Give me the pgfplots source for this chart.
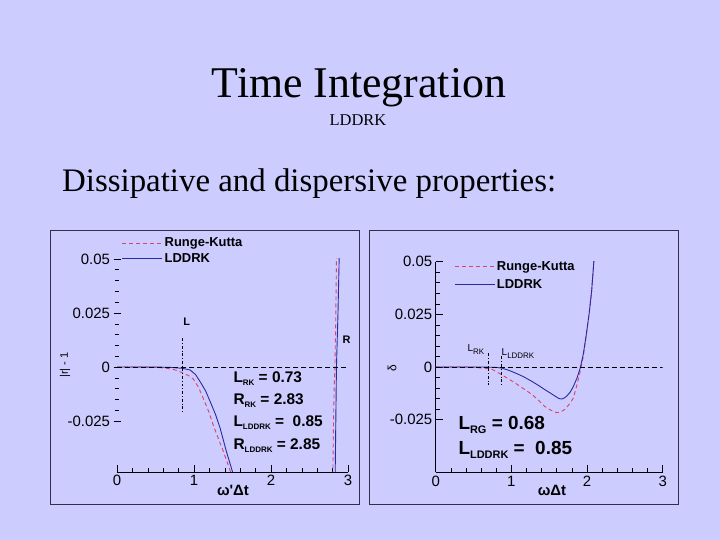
\documentclass[border=0pt]{standalone}
\usepackage{fontspec}
\setmainfont{Liberation Serif}
\newfontfamily\arial{Liberation Sans}
\usepackage{pgfplots}
\pgfplotsset{compat=1.18}
\definecolor{bg}{HTML}{CCCCFF}
\definecolor{rkred}{HTML}{E0406A}
\definecolor{ldblue}{HTML}{2A2AA0}
\definecolor{framec}{HTML}{303048}
\newcommand{\sub}[1]{\raisebox{-3bp}{\fontsize{8}{8}\selectfont #1}}
\newcommand{\subb}[1]{\raisebox{-4bp}{\fontsize{11}{11}\selectfont #1}}
\pgfplotsset{
  slide/.style={
    scale only axis, anchor=south west,
    xmin=0, xmax=3,
    separate axis lines,
    axis x line*=bottom, axis y line*=left,
    axis line style={-, black, line width=0.8bp},
    xtick={0,1,2,3},
    ytick={-0.025,0,0.025,0.05},
    yticklabels={-0.025,0,0.025,0.05},
    scaled y ticks=false, scaled x ticks=false,
    minor x tick num=4, minor y tick num=4,
    tick style={black, line width=0.6bp},
    major tick length=7bp, minor tick length=4bp,
    xtick align=inside,
    tick label style={font=\arial\fontsize{15}{15}\selectfont},
    /pgf/number format/assume math mode=true,
    legend style={draw=none, fill=none, inner sep=0pt, anchor=north west,
      font=\arial\bfseries\fontsize{13}{13}\selectfont,
      cells={anchor=west}},
    legend image code/.code={\draw[#1] (0bp,0bp) -- (40bp,0bp);},
  },
  rk/.style={rkred, line width=0.9bp, dash pattern=on 4bp off 3bp},
  ld/.style={ldblue, line width=0.9bp},
}
\begin{document}
\begin{tikzpicture}[x=1bp,y=1bp]
\fill[bg] (0,0) rectangle (720,540);
\node[anchor=base, font=\fontsize{44}{44}\selectfont] at (359,442) {Time Integration};
\node[anchor=base, font=\fontsize{16.5}{16.5}\selectfont] at (358,414) {LDDRK};
\node[anchor=base west, font=\fontsize{33}{33}\selectfont, inner sep=0pt] at (62,348) {Dissipative and dispersive properties:};
\draw[framec, line width=0.9bp] (50.7,309.3) rectangle (359.3,36);
\draw[framec, line width=0.9bp] (369.3,309.3) rectangle (678,36);

% left plot
\begin{axis}[slide, at={(117bp,68bp)}, width=231bp, height=213bp,
  ymin=-0.0486, ymax=0.05,
  y axis line style={draw=none}, ytick align=center,
  legend style={at={(0.02,1.11)}, row sep=1bp}]
\addplot[rk] coordinates {(0,0)(0.3,0)(0.5,-0.0002)(0.6,-0.0004)(0.7,-0.0009)(0.78,-0.0016)(0.86,-0.0028)(0.93,-0.004)(0.99,-0.0055)(1.06,-0.0095)(1.12,-0.0145)(1.19,-0.0205)(1.25,-0.0269)(1.32,-0.0335)(1.38,-0.039)(1.43,-0.0440)(1.47,-0.0480)(1.50,-0.052)(1.55,-0.06)(2.80,-0.06)(2.81,-0.03)(2.82,-0.01)(2.83,0)(2.84,0.02)(2.85,0.05)(2.86,0.07)};
\addlegendentry{Runge-Kutta}
\addplot[ld] coordinates {(0,0)(0.5,0)(0.7,-0.0002)(0.85,-0.0006)(0.95,-0.0014)(1.02,-0.0035)(1.08,-0.0068)(1.15,-0.011)(1.21,-0.016)(1.28,-0.022)(1.34,-0.0284)(1.42,-0.039)(1.50,-0.0485)(1.55,-0.06)(2.83,-0.06)(2.84,-0.03)(2.85,0)(2.87,0.025)(2.885,0.05)(2.9,0.07)};
\addlegendentry{LDDRK}
\addplot[black, line width=0.7bp, dash pattern=on 5bp off 3bp, forget plot] coordinates {(0,0)(3,0)};
\addplot[black, line width=0.6bp, dash dot, forget plot] coordinates {(0.85,0.0134)(0.85,-0.0207)};
\end{axis}

% right plot
\begin{axis}[slide, at={(435.7bp,67.7bp)}, width=227bp, height=210.6bp,
  ymin=-0.05, ymax=0.05,
  ytick align=inside,
  legend style={at={(0.08,1.013)}, row sep=4bp}]
\addplot[rk] coordinates {(0,0)(0.4,0)(0.55,-0.0003)(0.65,-0.0006)(0.74,-0.001)(0.85,-0.0032)(0.95,-0.0054)(1.05,-0.0076)(1.16,-0.0103)(1.27,-0.013)(1.36,-0.0158)(1.44,-0.0187)(1.52,-0.0205)(1.60,-0.0217)(1.66,-0.0212)(1.71,-0.020)(1.77,-0.0175)(1.82,-0.0147)(1.87,-0.008)(1.91,-0.002)(1.95,0.005)(1.99,0.0153)(2.03,0.026)(2.06,0.0358)(2.09,0.05)(2.10,0.056)};
\addlegendentry{Runge-Kutta}
\addplot[ld] coordinates {(0,0)(0.6,0)(0.8,-0.0002)(0.87,-0.0005)(0.96,-0.0015)(1.05,-0.0028)(1.16,-0.0046)(1.27,-0.0068)(1.36,-0.0088)(1.44,-0.0107)(1.52,-0.0125)(1.58,-0.0139)(1.63,-0.0150)(1.67,-0.0152)(1.70,-0.0147)(1.73,-0.0139)(1.78,-0.0118)(1.82,-0.0092)(1.87,-0.005)(1.91,-0.0005)(1.95,0.006)(1.99,0.0153)(2.03,0.026)(2.06,0.0358)(2.09,0.05)(2.10,0.056)};
\addlegendentry{LDDRK}
\addplot[black, line width=0.7bp, dash pattern=on 5bp off 3bp, forget plot] coordinates {(0,0)(3,0)};
\addplot[black, line width=0.6bp, dash dot, forget plot] coordinates {(0.70,0.0066)(0.70,-0.0084)};
\addplot[black, line width=0.6bp, dash dot, forget plot] coordinates {(0.87,0.005)(0.87,-0.0084)};
\end{axis}

% left annotations
\begin{scope}[font=\arial\bfseries\fontsize{15.5}{15.5}\selectfont]
\node[anchor=base west, inner sep=0pt] at (233.3,157.3) {L\sub{RK} = 0.73};
\node[anchor=base west, inner sep=0pt] at (233.3,135) {R\sub{RK} = 2.83};
\node[anchor=base west, inner sep=0pt] at (233.3,113.3) {L\sub{LDDRK} =\ \ 0.85};
\node[anchor=base west, inner sep=0pt] at (233.3,90.7) {R\sub{LDDRK} = 2.85};
\end{scope}
\node[font=\arial\bfseries\fontsize{11}{11}\selectfont] at (186.7,218.3) {L};
\node[font=\arial\bfseries\fontsize{11}{11}\selectfont] at (346.7,200) {R};
\node[font=\arial\bfseries\fontsize{15}{15}\selectfont] at (233,50) {ω\textquotesingle Δt};
\node[rotate=90, font=\arial\fontsize{11}{11}\selectfont] at (65,175) {|r| - 1};

% right annotations
\begin{scope}[font=\arial\bfseries\fontsize{19}{19}\selectfont]
\node[anchor=base west, inner sep=0pt] at (458.3,110) {L\subb{RG} = 0.68};
\node[anchor=base west, inner sep=0pt] at (458.3,85) {L\subb{LDDRK} =\ \ 0.85};
\end{scope}
\node[font=\arial\fontsize{10}{10}\selectfont] at (476,190) {L\sub{RK}};
\node[font=\arial\fontsize{10}{10}\selectfont] at (518,186) {L\sub{LDDRK}};
\node[font=\arial\bfseries\fontsize{15}{15}\selectfont] at (552,50) {ωΔt};
\node[rotate=90, font=\arial\fontsize{12}{12}\selectfont] at (392,172) {δ};
\end{tikzpicture}
\end{document}
